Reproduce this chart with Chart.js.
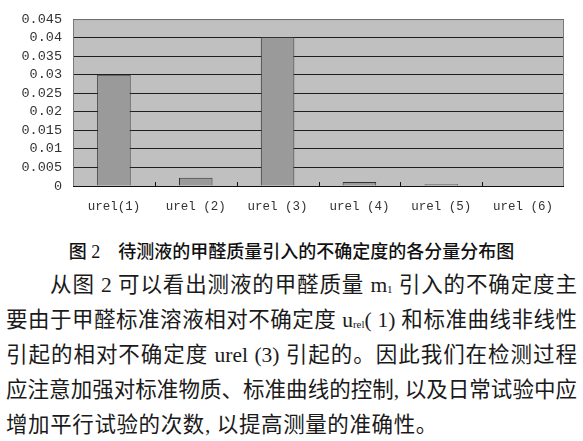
<!DOCTYPE html>
<html>
<head>
<meta charset="utf-8">
<script src="https://cdn.jsdelivr.net/npm/chart.js@4"></script>
<style>
  html, body { margin: 0; padding: 0; background: #fff; }
  body { width: 583px; height: 441px; position: relative; overflow: hidden; }
  #box { position: absolute; left: 0; top: 0; width: 583px; height: 232px; }
  .cap {
    position: absolute; left: 0; top: 240px; width: 583px; height: 24px;
    line-height: 24px; text-align: center; font-size: 18px; font-weight: 500;
    font-family: "Liberation Serif", "Noto Sans CJK SC"; color: #111;
  }
  .txt {
    position: absolute; left: 6px; top: 268px; width: 571px;
    font-family: "Liberation Serif", "Noto Sans CJK SC"; font-size: 21.5px;
    line-height: 35px; color: #1a1a1a;
  }
  .txt div { white-space: nowrap; text-align: justify; text-align-last: justify; height: 35px; }
  .txt div.first { text-indent: 44px; }
  .txt div.last { text-align-last: left; letter-spacing: 0.6px; }
  sub { font-size: 11px; vertical-align: -1px; line-height: 0; }
</style>
</head>
<body>
<div id="box"><canvas id="chart1"></canvas></div>
<div class="cap">图 2　待测液的甲醛质量引入的不确定度的各分量分布图</div>
<div class="txt">
  <div class="first">从图 2 可以看出测液的甲醛质量 m<sub>1</sub> 引入的不确定度主</div>
  <div>要由于甲醛标准溶液相对不确定度 u<sub>rel</sub>( 1) 和标准曲线非线性</div>
  <div>引起的相对不确定度 urel (3) 引起的。因此我们在检测过程</div>
  <div>应注意加强对标准物质、标准曲线的控制, 以及日常试验中应</div>
  <div class="last">增加平行试验的次数, 以提高测量的准确性。</div>
</div>
<script>
const categories = ["urel(1)", "urel (2)", "urel (3)", "urel (4)", "urel (5)", "urel (6)"];
const values = [0.0300, 0.0022, 0.0402, 0.0011, 0.0005, 0.0000];
const yTickLabels = ["0", "0.005", "0.01", "0.015", "0.02", "0.025", "0.03", "0.035", "0.04", "0.045"];

// gray plot area, border and the little ticks between categories
const plotBack = {
  id: "plotBack",
  beforeDraw(chart) {
    const { ctx, chartArea: a } = chart;
    ctx.save();
    ctx.fillStyle = "#c0c0c0";
    ctx.fillRect(a.left, a.top, a.right - a.left, a.bottom - a.top);
    ctx.restore();
  },
  afterDraw(chart) {
    const { ctx, chartArea: a } = chart;
    const x = chart.scales.x;
    ctx.save();
    ctx.strokeStyle = "#7a7a7a";
    ctx.lineWidth = 1;
    ctx.strokeRect(a.left + 0.5, a.top + 0.5, a.right - a.left - 1, a.bottom - a.top);
    ctx.strokeStyle = "#111";
    ctx.beginPath();
    ctx.moveTo(a.left, a.bottom + 0.5);
    ctx.lineTo(a.right, a.bottom + 0.5);
    for (let i = 1; i < categories.length; i++) {
      const px = Math.round((x.getPixelForValue(i - 1) + x.getPixelForValue(i)) / 2) + 0.5;
      ctx.moveTo(px, a.bottom);
      ctx.lineTo(px, a.bottom - 4);
    }
    ctx.stroke();
    ctx.restore();
  }
};

const chart1 = () => {
  const ctx = document.getElementById("chart1").getContext("2d");
  new Chart(ctx, {
    type: "bar",
    data: {
      labels: categories,
      datasets: [
        {
          data: values,
          backgroundColor: "#9a9a9a",
          borderColor: "#333",
          borderWidth: 1,
          barPercentage: 0.41,
          categoryPercentage: 1
        }
      ]
    },
    options: {
      responsive: true,
      maintainAspectRatio: false,
      animation: false,
      layout: { padding: { top: 15, right: 19, bottom: 19, left: 0 } },
      plugins: {
        legend: { display: false },
        tooltip: { enabled: false }
      },
      scales: {
        x: {
          afterFit: (s) => { s.height = 27; },
          grid: { display: false },
          border: { display: false },
          ticks: {
            color: "#333",
            padding: 5,
            maxRotation: 0,
            autoSkip: false,
            font: { family: "Liberation Mono", size: 12.5 }
          }
        },
        y: {
          min: 0,
          max: 0.045,
          afterFit: (s) => { s.width = 73; },
          grid: { color: "#1e1e1e", lineWidth: 1, drawTicks: false },
          border: { display: false },
          ticks: {
            stepSize: 0.005,
            autoSkip: false,
            padding: 11,
            color: "#333",
            font: { family: "Liberation Mono", size: 13.5 },
            callback: (v, i) => yTickLabels[i]
          }
        }
      }
    },
    plugins: [plotBack]
  });
};

(function () {
  chart1();
})();
</script>
</body>
</html>
